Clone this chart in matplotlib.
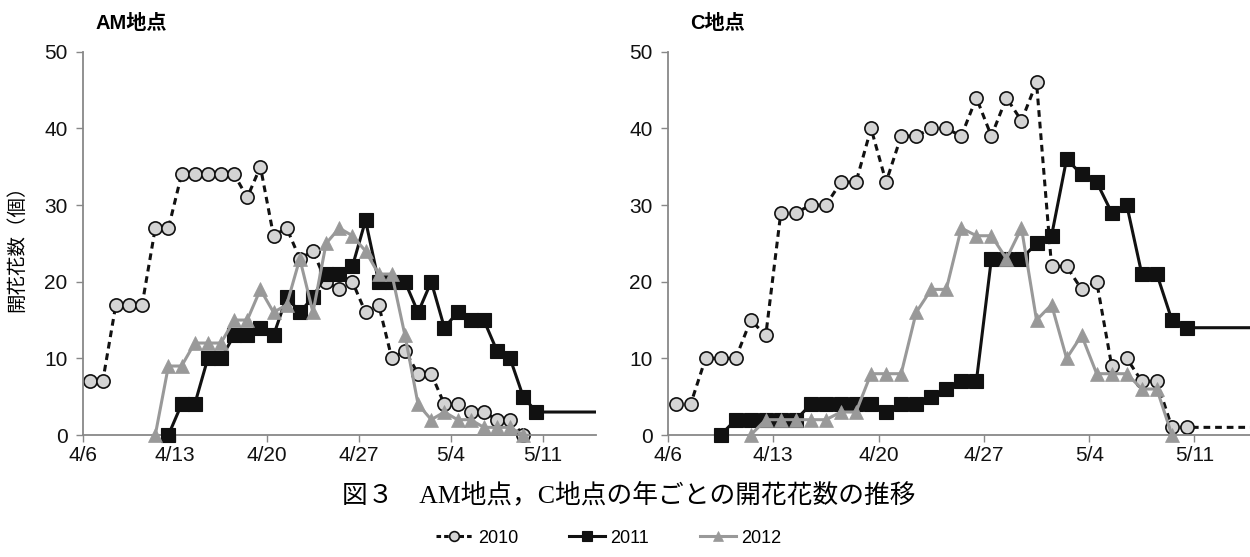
import numpy as np
import matplotlib
matplotlib.use('Agg')
import matplotlib.pyplot as plt
from matplotlib.lines import Line2D

plt.rcParams['font.family'] = ['Liberation Sans', 'Noto Sans CJK JP', 'DejaVu Sans']

# x axis: days counted from 4/6
date_ticks = [0, 7, 14, 21, 28, 35]
date_labels = ['4/6', '4/13', '4/20', '4/27', '5/4', '5/11']

# AM site (first day index, daily counts)
am_2010_start = 0
am_2010 = [7, 7, 17, 17, 17, 27, 27, 34, 34, 34, 34, 34, 31, 35, 26, 27, 23, 24,
           20, 19, 20, 16, 17, 10, 11, 8, 8, 4, 4, 3, 3, 2, 2, 0]
am_2011_start = 6
am_2011 = [0, 4, 4, 10, 10, 13, 13, 14, 13, 18, 16, 18, 21, 21, 22, 28, 20, 20,
           20, 16, 20, 14, 16, 15, 15, 11, 10, 5, 3]
am_2011_last = (45, 3)   # later survey, outside the plotted range
am_2012_start = 5
am_2012 = [0, 9, 9, 12, 12, 12, 15, 15, 19, 16, 17, 23, 16, 25, 27, 26, 24, 21,
           21, 13, 4, 2, 3, 2, 2, 1, 1, 1, 0]

# C site
c_2010_start = 0
c_2010 = [4, 4, 10, 10, 10, 15, 13, 29, 29, 30, 30, 33, 33, 40, 33, 39, 39, 40,
          40, 39, 44, 39, 44, 41, 46, 22, 22, 19, 20, 9, 10, 7, 7, 1, 1]
c_2010_last = (45, 1)
c_2011_start = 3
c_2011 = [0, 2, 2, 2, 2, 2, 4, 4, 4, 4, 4, 3, 4, 4, 5, 6, 7, 7, 23, 23, 23, 25,
          26, 36, 34, 33, 29, 30, 21, 21, 15, 14]
c_2011_last = (45, 14)
c_2012_start = 5
c_2012 = [0, 2, 2, 2, 2, 2, 3, 3, 8, 8, 8, 16, 19, 19, 27, 26, 26, 23, 27, 15,
          17, 10, 13, 8, 8, 8, 6, 6, 0]

years = ['2010', '2011', '2012']
styles = {
    '2010': dict(color='#111111', lw=2.2, dashes=(2.2, 1.6), marker='o', ms=9.5,
                 mfc='#d4d4d4', mec='#111111', mew=1.2),
    '2011': dict(color='#111111', lw=2.2, marker='s', ms=9.5,
                 mfc='#111111', mec='#111111', mew=0.8),
    '2012': dict(color='#999999', lw=2.2, marker='^', ms=10.5,
                 mfc='#999999', mec='#999999', mew=0.5),
}

fig = plt.figure(figsize=(12.5, 5.57), dpi=100)
ax_l = fig.add_axes([0.0664, 0.219, 0.41, 0.688])
ax_r = fig.add_axes([0.5344, 0.219, 0.4693, 0.688])


def draw_series(ax, year, start, values, last=None, z=2):
    st = styles[year]
    x = start + np.arange(len(values)) + 0.5
    y = np.array(values, dtype=float)
    lx, ly = x, y
    if last is not None:
        lx = np.append(x, last[0] + 0.5)
        ly = np.append(y, last[1])
    line_kw = dict(color=st['color'], lw=st['lw'], zorder=z)
    if 'dashes' in st:
        line_kw['dashes'] = st['dashes']
    ax.plot(lx, ly, clip_on=True, solid_joinstyle='miter', **line_kw)
    ax.plot(x, y, ls='none', marker=st['marker'], ms=st['ms'], mfc=st['mfc'],
            mec=st['mec'], mew=st['mew'], clip_on=False, zorder=z + 0.5)


draw_series(ax_l, '2010', am_2010_start, am_2010, z=2)
draw_series(ax_l, '2011', am_2011_start, am_2011, am_2011_last, z=3)
draw_series(ax_l, '2012', am_2012_start, am_2012, z=4)
draw_series(ax_r, '2010', c_2010_start, c_2010, c_2010_last, z=2)
draw_series(ax_r, '2011', c_2011_start, c_2011, c_2011_last, z=3)
draw_series(ax_r, '2012', c_2012_start, c_2012, z=4)

for ax in (ax_l, ax_r):
    ax.set_xlim(0, 39)
    ax.set_ylim(0, 50)
    ax.set_xticks(date_ticks)
    ax.set_xticklabels(date_labels)
    ax.set_yticks(range(0, 51, 10))
    for s in ('top', 'right'):
        ax.spines[s].set_visible(False)
    for s in ('left', 'bottom'):
        ax.spines[s].set_color('#888888')
        ax.spines[s].set_linewidth(1.3)
    ax.tick_params(axis='both', direction='out', length=5, width=1,
                   color='#888888', labelsize=15, labelcolor='#111111')
    ax.tick_params(axis='x', pad=3)
    ax.tick_params(axis='y', pad=6)

ax_l.set_ylabel('開花花数（個）', fontsize=14, labelpad=12,
                family=['Noto Sans CJK JP', 'DejaVu Sans'])

fig.text(0.076, 0.957, 'AM地点', fontsize=14.5, fontweight='bold', va='center')
fig.text(0.552, 0.957, 'C地点', fontsize=14.5, fontweight='bold', va='center')

fig.text(0.503, 0.112, '図３　AM地点，C地点の年ごとの開花花数の推移',
         fontsize=18.5, ha='center', va='center',
         family=['Liberation Serif', 'Noto Sans CJK JP'])

handles = []
for yr in years:
    st = styles[yr]
    kw = dict(color=st['color'], lw=st['lw'], marker=st['marker'], ms=7,
              mfc=st['mfc'], mec=st['mec'], mew=st['mew'])
    if 'dashes' in st:
        kw['dashes'] = (1.5, 1.0)
    handles.append(Line2D([], [], **kw))
fig.legend(handles, years, loc='center', bbox_to_anchor=(0.487, 0.034), ncol=3,
           frameon=False, fontsize=13, handlelength=2.0, columnspacing=2.8,
           handletextpad=0.3)

fig.savefig('out.png', dpi=100)
